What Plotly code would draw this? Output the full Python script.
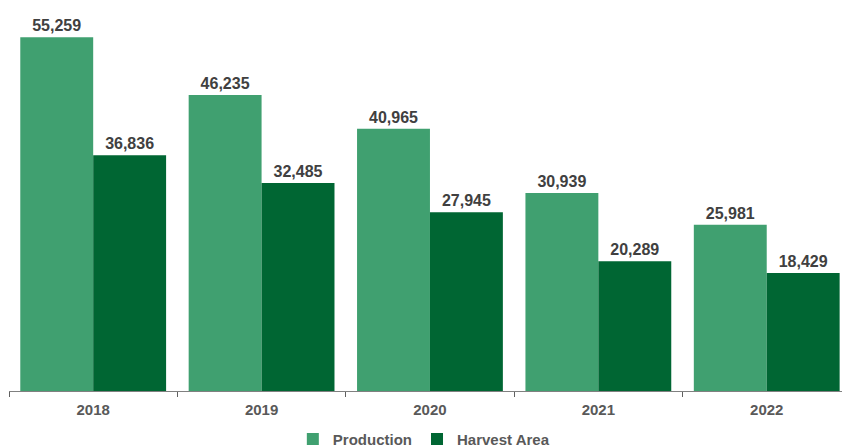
import plotly.graph_objects as go

years = ["2018", "2019", "2020", "2021", "2022"]
production = [55259, 46235, 40965, 30939, 25981]
harvest_area = [36836, 32485, 27945, 20289, 18429]

fmt = lambda v: f"{v:,}"

fig = go.Figure()
fig.add_trace(go.Bar(
    x=years, y=production, name="Production",
    marker=dict(color="#40A070", line=dict(width=0)),
    text=[fmt(v) for v in production], textposition="outside",
    textfont=dict(family="Liberation Sans, Arial", size=16, color="#404040", weight="bold"),
    cliponaxis=False,
))
fig.add_trace(go.Bar(
    x=years, y=harvest_area, name="Harvest Area",
    marker=dict(color="#006633", line=dict(width=0)),
    text=[fmt(v) for v in harvest_area], textposition="outside",
    textfont=dict(family="Liberation Sans, Arial", size=16, color="#404040", weight="bold"),
    cliponaxis=False,
))

# the reference plot area runs slightly past the right edge,
# so the last category is only partly inside the x range
fig.update_layout(
    width=842, height=446,
    margin=dict(l=9, r=0, t=7, b=55, autoexpand=False),
    paper_bgcolor="white", plot_bgcolor="white",
    barmode="group", bargap=0.134, bargroupgap=0,
    font=dict(family="Liberation Sans, Arial", color="#595959"),
    showlegend=True,
    legend=dict(
        orientation="h", x=0.498, xanchor="center", y=-0.083, yanchor="top",
        font=dict(size=15, color="#595959", weight="bold"),
        itemwidth=30, traceorder="normal",
    ),
    xaxis=dict(
        type="category", range=[-0.5, 4.447],
        showline=True, linecolor="#808080", linewidth=1,
        ticks="outside", tickson="boundaries", ticklen=5, tickcolor="#606060",
        tickfont=dict(size=15, color="#595959", weight="bold"),
        ticklabelstandoff=5,
        showgrid=False,
    ),
    yaxis=dict(range=[0, 60000], visible=False, showgrid=False),
)

fig.write_html(
    "out.html",
    config={"displayModeBar": False},
    post_script="document.body.style.margin='0';document.body.style.overflow='hidden';",
)
